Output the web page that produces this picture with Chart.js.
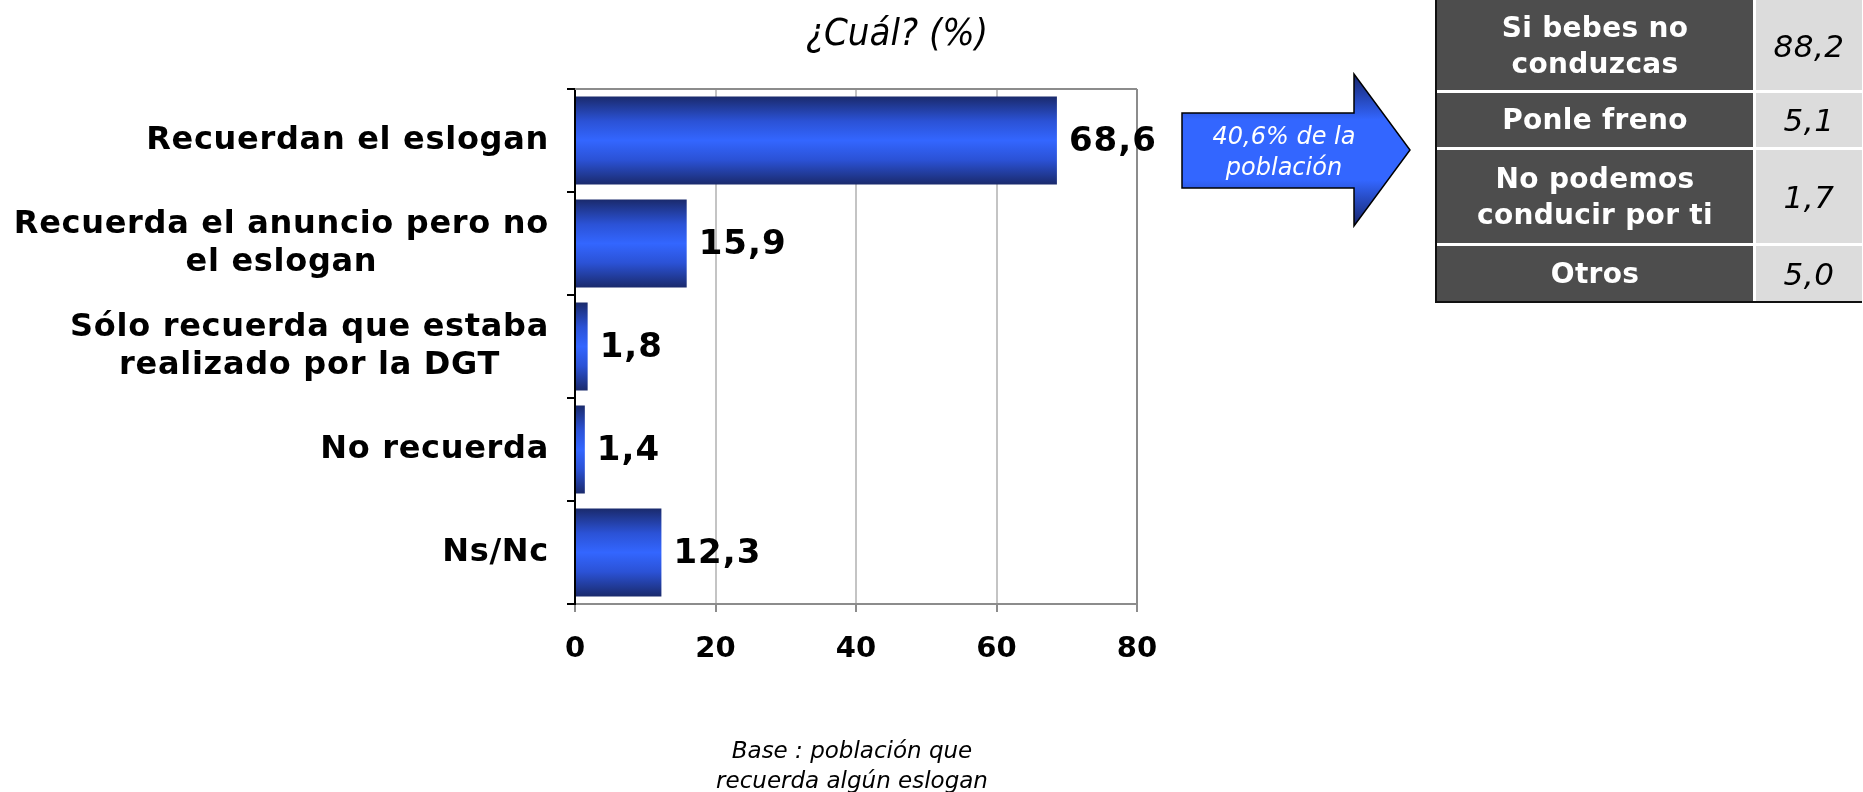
<!DOCTYPE html>
<html>
<head>
<meta charset="utf-8">
<script src="https://cdn.jsdelivr.net/npm/chart.js@4.4.1/dist/chart.umd.min.js"></script>
<style>
  html, body { margin: 0; padding: 0; background: #fff; overflow: hidden; }
  #wrap { position: relative; width: 1863px; height: 792px; }
  #chart { position: absolute; left: 0; top: 0; }
  .title {
    position: absolute; left: 697px; top: 12px; width: 400px; text-align: center;
    font: italic 38px "Liberation Sans Narrow", "DejaVu Sans Condensed", sans-serif; line-height: 40px;
  }
  .base {
    position: absolute; left: 652px; top: 735px; width: 400px; text-align: center;
    font: italic 23px "DejaVu Sans", sans-serif; line-height: 30px;
  }
  #arrow { position: absolute; left: 0; top: 0; }
  #slogans {
    position: absolute; left: 1435px; top: 0;
    border-collapse: separate; border-spacing: 0;
    border-left: 2px solid #111; border-bottom: 2px solid #111;
  }
  #slogans td { padding: 0; text-align: center; vertical-align: middle; }
  #slogans td.name {
    width: 316px; background: #4d4d4d; color: #fff; border-right: 3px solid #fff;
    font: bold 28px "DejaVu Sans", sans-serif; line-height: 36px; letter-spacing: 0.3px;
  }
  #slogans td.val {
    width: 106px; background: #dcdcdc; color: #000;
    font: italic 31px "DejaVu Sans", sans-serif; letter-spacing: 0.5px;
  }
  #slogans tr:not(:last-child) td { border-bottom: 3px solid #fff; }
  #slogans tr:nth-child(1) td { height: 88px; padding-top: 2px; }
  #slogans tr:nth-child(2) td { height: 54px; }
  #slogans tr:nth-child(3) td { height: 93px; }
  #slogans tr:nth-child(4) td { height: 55px; }
</style>
</head>
<body>
<div id="wrap">
  <canvas id="chart" width="1863" height="792"></canvas>
  <div class="title">¿Cuál? (%)</div>
  <div class="base">Base : población que<br>recuerda algún eslogan</div>
  <svg id="arrow" width="1863" height="792">
    <defs>
      <linearGradient id="arrowFill" x1="0" y1="74" x2="0" y2="226" gradientUnits="userSpaceOnUse">
        <stop offset="0" stop-color="#16246a"/>
        <stop offset="0.3" stop-color="#3366ff"/>
        <stop offset="0.7" stop-color="#3366ff"/>
        <stop offset="1" stop-color="#16246a"/>
      </linearGradient>
    </defs>
    <polygon points="1182,113 1354,113 1354,74 1410,150 1354,226 1354,188 1182,188"
             fill="url(#arrowFill)" stroke="#000" stroke-width="1.5"/>
    <text x="1284" y="144" fill="#fff" text-anchor="middle"
          font-family="DejaVu Sans" font-style="italic" font-size="24">40,6% de la</text>
    <text x="1284" y="175" fill="#fff" text-anchor="middle"
          font-family="DejaVu Sans" font-style="italic" font-size="24">población</text>
  </svg>
  <table id="slogans"></table>
</div>
<script>
const categories = [
    'Recuerdan el eslogan',
    ['Recuerda el anuncio pero no', 'el eslogan'],
    ['Sólo recuerda que estaba', 'realizado por la DGT'],
    'No recuerda',
    'Ns/Nc'
];
const values = [68.6, 15.9, 1.8, 1.4, 12.3];
const xMin = 0, xMax = 80, xStep = 20;

const sloganNames = [['Si bebes no', 'conduzcas'], ['Ponle freno'], ['No podemos', 'conducir por ti'], ['Otros']];
const sloganValues = [88.2, 5.1, 1.7, 5.0];

function fmt(v) { return v.toFixed(1).replace('.', ','); }

// side table
const table = document.getElementById('slogans');
sloganNames.forEach(function(name, i) {
    const tr = document.createElement('tr');
    const a = document.createElement('td');
    a.className = 'name';
    a.innerHTML = name.join('<br>');
    const b = document.createElement('td');
    b.className = 'val';
    b.textContent = fmt(sloganValues[i]);
    tr.appendChild(a);
    tr.appendChild(b);
    table.appendChild(tr);
});

const BAR_PCT = 0.855;

const yLabels = {
    id: 'yLabels',
    afterDraw(chart) {
        const ctx = chart.ctx, y = chart.scales.y;
        ctx.save();
        ctx.font = 'bold 32px "DejaVu Sans"';
        ctx.letterSpacing = '0.7px';
        ctx.fillStyle = '#000';
        ctx.textAlign = 'center';
        ctx.textBaseline = 'middle';
        const right = chart.chartArea.left - 26;
        categories.forEach(function(lab, i) {
            const lines = Array.isArray(lab) ? lab : [lab];
            const w = Math.max.apply(null, lines.map(l => ctx.measureText(l).width));
            const cy = y.getPixelForValue(i);
            lines.forEach(function(l, j) {
                ctx.fillText(l, right - w / 2, cy + (j - (lines.length - 1) / 2) * 38);
            });
        });
        ctx.restore();
    }
};

const frameTop = {
    id: 'frameTop',
    beforeDatasetsDraw(chart) {
        const a = chart.chartArea, ctx = chart.ctx;
        ctx.save();
        ctx.strokeStyle = '#8c8c8c';
        ctx.lineWidth = 2;
        ctx.beginPath();
        ctx.moveTo(a.left, a.top);
        ctx.lineTo(a.right, a.top);
        ctx.stroke();
        ctx.restore();
    }
};

const valueLabels = {
    id: 'valueLabels',
    afterDatasetsDraw(chart) {
        const ctx = chart.ctx;
        ctx.save();
        ctx.font = 'bold 34px "DejaVu Sans"';
        ctx.letterSpacing = '1px';
        ctx.fillStyle = '#000';
        ctx.textAlign = 'left';
        ctx.textBaseline = 'middle';
        chart.getDatasetMeta(0).data.forEach(function(el, i) {
            ctx.fillText(fmt(values[i]), el.x + 12, el.y + 2);
        });
        ctx.restore();
    }
};

const ctx_c = document.getElementById('chart');
new Chart(ctx_c, {
    type: 'bar',
    data: {
        labels: categories,
        datasets: [{
            data: values,
            backgroundColor: function(c) {
                const chart = c.chart, area = chart.chartArea;
                if (!area || !chart.scales.y) return '#3366ff';
                const yc = chart.scales.y.getPixelForValue(c.dataIndex);
                const h = (area.bottom - area.top) / categories.length * BAR_PCT;
                const g = chart.ctx.createLinearGradient(0, yc - h / 2, 0, yc + h / 2);
                g.addColorStop(0, '#1a2a6c');
                g.addColorStop(0.28, '#2b52d6');
                g.addColorStop(0.5, '#3366ff');
                g.addColorStop(0.72, '#2b52d6');
                g.addColorStop(1, '#1a2a6c');
                return g;
            },
            borderWidth: 0,
            barPercentage: BAR_PCT,
            categoryPercentage: 1,
        }],
    },
    options: {
        indexAxis: 'y',
        responsive: false,
        animation: false,
        layout: { padding: { left: 0, top: 89, right: 726, bottom: 0 } },
        scales: {
            x: {
                min: xMin, max: xMax,
                ticks: {
                    stepSize: xStep,
                    color: '#000',
                    padding: 20,
                    font: { family: 'DejaVu Sans', size: 29, weight: 'bold' },
                },
                grid: {
                    color: c => (c.tick && c.tick.value === xMax) ? '#8c8c8c' : (c.tick && c.tick.value === xMin ? 'rgba(0,0,0,0)' : '#c4c4c4'),
                    tickColor: '#8c8c8c',
                    lineWidth: 2,
                    tickLength: 8,
                },
                border: { color: '#8c8c8c', width: 2 },
                afterFit: s => { s.height = 792 - 604; },
            },
            y: {
                ticks: { display: false },
                grid: {
                    offset: true,
                    drawOnChartArea: false,
                    color: '#000',
                    tickColor: '#000',
                    lineWidth: 2,
                    tickLength: 8,
                },
                border: { color: '#000', width: 2 },
                afterFit: s => { s.width = 575; },
            }
        },
        plugins: {
            legend: { display: false },
            tooltip: { enabled: false },
        },
    },
    plugins: [frameTop, valueLabels, yLabels],
});
</script>
</body>
</html>
